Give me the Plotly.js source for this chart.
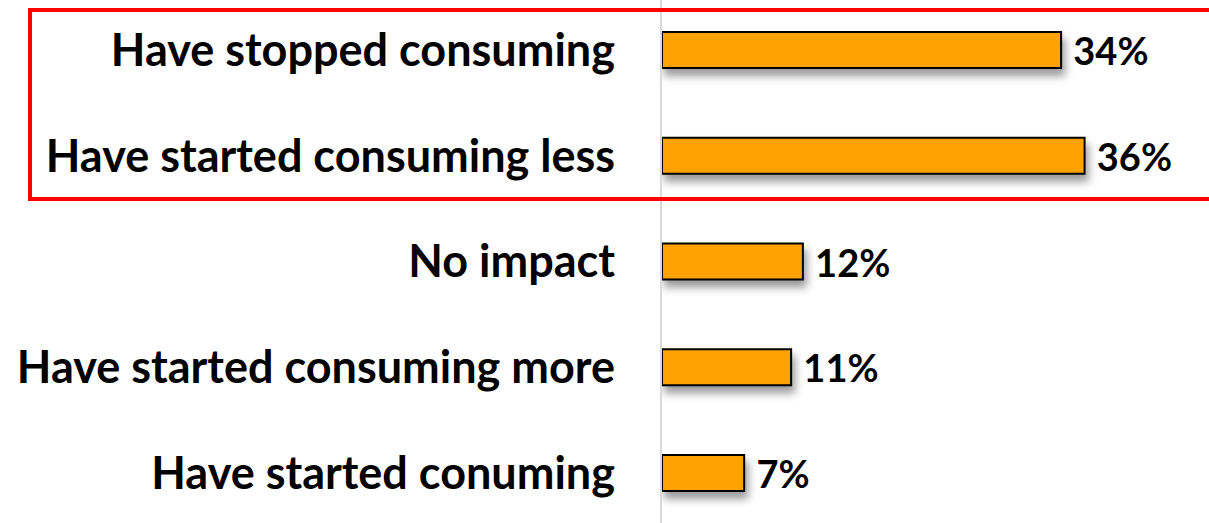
<!DOCTYPE html>
<html>
<head>
<meta charset="utf-8">
<script src="https://cdn.plot.ly/plotly-3.0.1.min.js"></script>
<style>
html,body{margin:0;padding:0;background:#fff;}
#chart{width:1209px;height:523px;}
</style>
</head>
<body>
<div id="chart"></div>
<script>
const categories = [
  "Have stopped consuming",
  "Have started consuming less",
  "No impact",
  "Have started consuming more",
  "Have started conuming"
];
const values = [34, 36, 12, 11, 7];
const valueLabels = ["34%", "36%", "12%", "11%", "7%"];

const trace = {
  type: "bar",
  orientation: "h",
  x: values,
  y: categories,
  width: 0.34,
  marker: {color: "#FFA202", line: {color: "#000000", width: 2}},
  text: valueLabels.map(t => "\u00a0" + t),
  texttemplate: "%{text}",
  textposition: "outside",
  constraintext: "none",
  cliponaxis: false,
  textfont: {family: "Lato, 'Open Sans', sans-serif", size: 38, color: "#000", weight: 700},
  hoverinfo: "none"
};

const layout = {
  width: 1209,
  height: 523,
  margin: {l: 662, r: 0, t: 0, b: 0, pad: 0},
  paper_bgcolor: "#ffffff",
  plot_bgcolor: "#ffffff",
  showlegend: false,
  xaxis: {range: [0, 46.6], visible: false, fixedrange: true},
  yaxis: {
    type: "category",
    categoryorder: "array",
    categoryarray: categories,
    range: [4.473, -0.473],
    showgrid: false,
    zeroline: false,
    showline: true,
    linecolor: "#d9d9d9",
    linewidth: 2,
    ticks: "",
    ticklabelstandoff: 36,
    automargin: false,
    tickfont: {family: "Lato, 'Open Sans', sans-serif", size: 45, color: "#000", weight: 700},
    fixedrange: true
  },
  shapes: [{
    type: "rect",
    xref: "paper", yref: "paper",
    x0: -1.1554, x1: 1.02,
    y0: 0.6195, y1: 0.9809,
    line: {color: "#FF0000", width: 4},
    layer: "above"
  }]
};

Plotly.newPlot("chart", [trace], layout, {displayModeBar: false, staticPlot: true}).then(gd => {
  gd.querySelectorAll(".barlayer .point path").forEach(p => {
    p.style.filter = "drop-shadow(3px 7px 4px rgba(0,0,0,0.4))";
  });
});
</script>
</body>
</html>
